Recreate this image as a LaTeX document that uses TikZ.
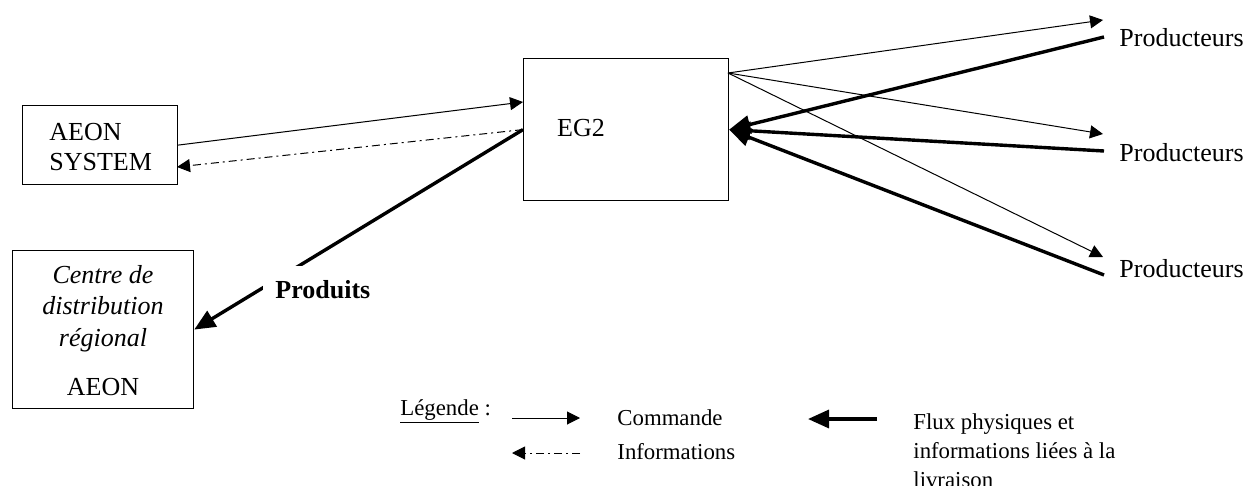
\documentclass[tikz,border=0pt]{standalone}
\usepackage{fontspec}
\setmainfont{Liberation Serif}
\usetikzlibrary{arrows.meta}
\begin{document}
\begin{tikzpicture}[x=0.5pt,y=-0.5pt,
  every node/.style={font=\fontsize{13pt}{15.75pt}\selectfont, inner sep=0pt},
  box/.style={draw, line width=0.6pt, inner sep=0pt, anchor=north west},
  txt/.style={anchor=base west},
  ctxt/.style={anchor=base},
  thinarr/.style={line width=0.5pt, -{Triangle[length=6.5pt,width=6.5pt]}},
  thickarr/.style={line width=1.7pt, -{Triangle[length=10.5pt,width=9pt]}},
  dashdot/.style={line width=0.5pt, dash pattern=on 4pt off 2pt on 1pt off 2pt, -{Triangle[length=6.5pt,width=6.5pt]}},
  leg/.style={font=\fontsize{11.4pt}{14.5pt}\selectfont, anchor=base west},
]
\useasboundingbox (0,0) rectangle (1245,486);

% boxes
\node[box, minimum width=77.5pt, minimum height=39.5pt] (aeon) at (22,105) {};
\node[box, minimum width=102.5pt, minimum height=71pt] (eg2) at (523,58) {};
\node[box, minimum width=90.5pt, minimum height=79pt] (cdr) at (12,250) {};

% box texts
\node[txt] (aeon1) at (49,141) {AEON};
\node[txt] (aeon2) at (49,170) {SYSTEM};
\node[ctxt] (eg2t) at (581,137) {EG2};
\node[ctxt] (cdr1) at (103,283) {\itshape Centre de};
\node[ctxt] (cdr2) at (103,314) {\itshape distribution};
\node[ctxt] (cdr3) at (103,346) {\itshape régional};
\node[ctxt] (cdr4) at (103,395) {AEON};

% producteurs
\node[txt] (p1) at (1119,47) {Producteurs};
\node[txt] (p2) at (1119,162) {Producteurs};
\node[txt] (p3) at (1119,277) {Producteurs};

% coordinates
\coordinate (eg2in) at (523,102);
\coordinate (aeonin) at (177,167);
\coordinate (eg2r) at (728,73);
\coordinate (p1in) at (1103,20);
\coordinate (p2in) at (1103,134);
\coordinate (p3in) at (1103,257);
\coordinate (p1out) at (1104,37);
\coordinate (p2out) at (1104,151);
\coordinate (p3out) at (1104,275);

% left connectors
\draw[thinarr] (aeon.east) -- (eg2in);
\draw[dashdot] (eg2.west) -- (aeonin);
\draw[thickarr] (eg2.west) -- (cdr.east);
\node[txt, font=\fontsize{13pt}{15.75pt}\selectfont\bfseries, fill=white, inner xsep=6pt, inner ysep=7pt] (prod) at (263,298) {Produits};

% right connectors
\draw[thinarr] (eg2r) -- (p1in);
\draw[thinarr] (eg2r) -- (p2in);
\draw[thinarr] (eg2r) -- (p3in);
\draw[thickarr] (p1out) -- (eg2.east);
\draw[thickarr] (p2out) -- (eg2.east);
\draw[thickarr] (p3out) -- (eg2.east);

% legend
\node[leg] (lg) at (400,415) {\underline{Légende} :};
\coordinate (c1a) at (512,418);
\coordinate (c1b) at (580,418);
\draw[thinarr] (c1a) -- (c1b);
\node[leg] (lc) at (617,425) {Commande};
\coordinate (i1a) at (580,453);
\coordinate (i1b) at (512,453);
\draw[dashdot] (i1a) -- (i1b);
\node[leg] (li) at (617,459) {Informations};
\coordinate (f1a) at (877,419);
\coordinate (f1b) at (808,419);
\draw[thickarr] (f1a) -- (f1b);
\node[leg] (lf1) at (913,429) {Flux physiques et};
\node[leg] (lf2) at (913,458) {informations liées à la};
\node[leg] (lf3) at (913,487) {livraison};
\end{tikzpicture}
\end{document}
